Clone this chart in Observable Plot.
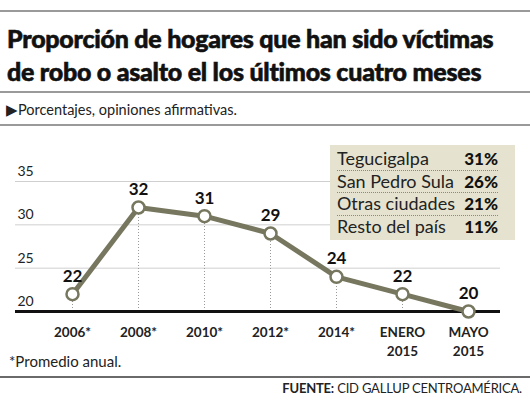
<!DOCTYPE html>
<html>
<head>
<meta charset="utf-8">
<script src="https://cdn.jsdelivr.net/npm/d3@7"></script>
<script src="https://cdn.jsdelivr.net/npm/@observablehq/plot@0.6"></script>
<style>
  body { margin: 0; background: #fff; }
  #wrap { position: relative; width: 530px; height: 400px; overflow: hidden; font-family: Lato, "Open Sans", sans-serif; color: #1a1a1a; }
  .rule { position: absolute; left: 0; width: 530px; height: 2px; background: #9a9a9a; }
  #title { position: absolute; left: 7px; top: 22px; font-family: "Lato Black", Lato, sans-serif; font-weight: 900; font-size: 25px; line-height: 33px; letter-spacing: -0.25px; color: #111; white-space: nowrap; -webkit-text-stroke: 0.6px #111; }
  #sub { position: absolute; left: 6px; top: 101px; font-size: 14.5px; color: #222; white-space: nowrap; }
  #chart { position: absolute; left: 0; top: 130px; }
  #legend { position: absolute; left: 330px; top: 145px; width: 185px; height: 95px; background: #e5e3cf; box-sizing: border-box; padding: 3px 17px 0 7px; }
  .row { display: flex; justify-content: space-between; height: 21.5px; line-height: 21.5px; font-size: 18px; color: #222; border-bottom: 1px dotted #8a8a80; }
  .row:last-child { border-bottom: none; }
  .row b { font-weight: 900; color: #111; font-size: 17px; }
  #note { position: absolute; left: 9px; top: 352px; font-size: 15px; color: #222; }
  #src { position: absolute; right: 8px; top: 380px; font-size: 13px; color: #222; letter-spacing: -0.2px; }
</style>
</head>
<body>
<div id="wrap">
  <div class="rule" style="top:10px"></div>
  <div id="title">Proporción de hogares que han sido víctimas<br>de robo o asalto el los últimos cuatro meses</div>
  <div class="rule" style="top:91px"></div>
  <div id="sub">▶Porcentajes, opiniones afirmativas.</div>
  <div class="rule" style="top:124px"></div>
  <div id="chart"></div>
  <div id="legend"></div>
  <div id="note">*Promedio anual.</div>
  <div class="rule" style="top:376px; background:#6a6a6a"></div>
  <div id="src"><b>FUENTE:</b> CID GALLUP CENTROAMÉRICA.</div>
</div>
<script>
const periods = ["2006*", "2008*", "2010*", "2012*", "2014*", "ENERO\n2015", "MAYO\n2015"];
const values = [22, 32, 31, 29, 24, 22, 20];
const yTicks = [20, 25, 30, 35];
const regions = ["Tegucigalpa", "San Pedro Sula", "Otras ciudades", "Resto del país"];
const regionValues = [31, 26, 21, 11];

const data = periods.map((p, i) => ({period: p, value: values[i]}));
const lineColor = "#77775f";

const chart = Plot.plot({
  width: 530,
  height: 245,
  marginLeft: 15,
  marginRight: 30,
  marginTop: 51,
  marginBottom: 64,
  x: {type: "point", domain: periods, range: [71, 468], padding: 0, axis: null},
  y: {domain: [20, 35], axis: null},
  style: {fontFamily: "Lato, 'Open Sans', sans-serif", background: "transparent", overflow: "visible"},
  marks: [
    Plot.ruleY(yTicks.filter(d => d !== 20), {stroke: "#cfcfcf", strokeWidth: 1}),
    Plot.text(yTicks, {y: d => d, text: d => String(d), frameAnchor: "left", dx: 2, dy: -10, textAnchor: "start", fontSize: 14, fill: "#222"}),
    Plot.ruleX(data, {x: "period", y1: 20, y2: "value", stroke: "#9a9a9a", strokeWidth: 1, strokeDasharray: "1,2"}),
    Plot.ruleY([20], {stroke: "#111", strokeWidth: 3}),
    Plot.line(data, {x: "period", y: "value", stroke: lineColor, strokeWidth: 5, strokeLinejoin: "round"}),
    Plot.dot(data, {x: "period", y: "value", r: 6, fill: "white", stroke: lineColor, strokeWidth: 2.5}),
    Plot.text(data, {x: "period", y: "value", text: d => String(d.value), dy: -18, fontSize: 17, fontWeight: 700, fill: "#111"}),
    Plot.text(periods, {x: d => d, y: 20, text: d => d, dy: 12, lineAnchor: "top", lineHeight: 1.4, fontSize: 13.5, fontWeight: 700, fill: "#222"})
  ]
});
document.getElementById("chart").appendChild(chart);

const legend = document.getElementById("legend");
regions.forEach((r, i) => {
  const row = document.createElement("div");
  row.className = "row";
  row.innerHTML = `<span>${r}</span><b>${regionValues[i]}%</b>`;
  legend.appendChild(row);
});
</script>
</body>
</html>
